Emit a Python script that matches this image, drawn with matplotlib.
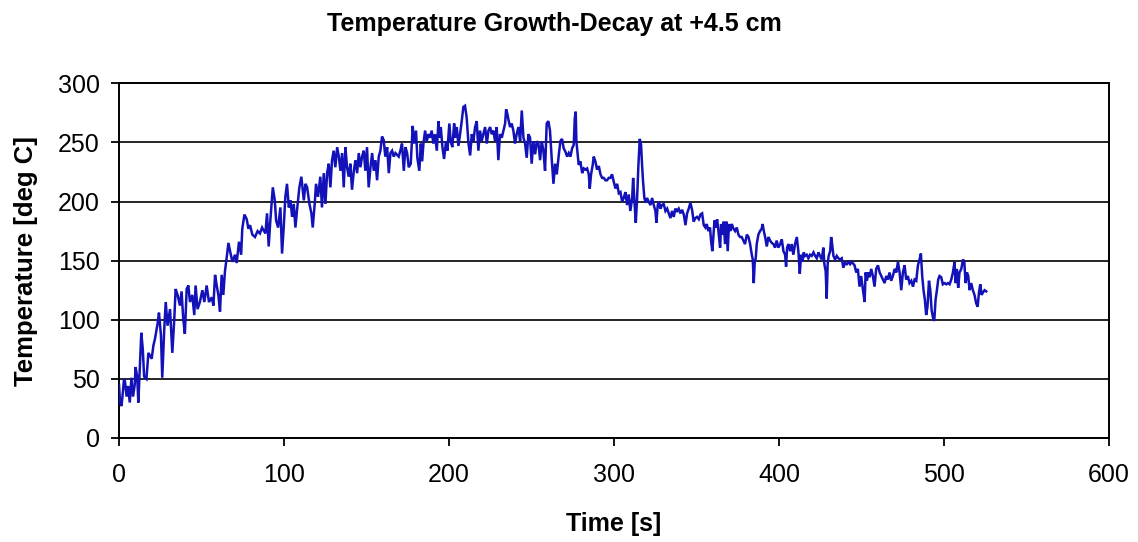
import numpy as np
import matplotlib
matplotlib.use("Agg")
import matplotlib.pyplot as plt

plt.rcParams['font.family'] = ['Liberation Sans', 'DejaVu Sans']

# Thermocouple record at +4.5 cm: time [s] and temperature [deg C]
time_rise = [0, 0.6, 1.5, 2.4, 3.0, 3.6, 4.6, 5.5, 6.5, 7.5, 8.5, 9.5, 10.0, 11.0, 11.7,
             12.7, 13.5, 14.4, 15.2, 16.6, 17.8, 19.8, 20.8, 21.8, 23.4, 24.2, 25.4, 26.2,
             27.4, 28.3, 29.4, 30.9, 32.3, 33.5, 34.3, 35.5, 36.9, 37.9, 38.9, 39.9, 41.0,
             42.0, 43.0, 44.4, 45.6, 46.4, 47.6, 49.0, 50.5, 51.7, 53.1, 54.5, 56.2, 57.2,
             58.2, 59.2, 60.2, 61.2, 62.2, 63.2, 64.2, 65.2, 66.3, 67.3, 68.7, 70.3, 71.3,
             72.7, 74.0, 74.7, 76.0, 77.4, 78.4, 79.4, 80.8, 82.4, 84.0, 85.4]
temp_rise = [45, 30, 27, 40, 50, 48, 35, 44, 30, 51, 35, 45, 60, 52, 30,
             62, 89, 75, 52, 50, 72, 67, 78, 84, 97, 106, 87, 51,
             92, 115, 95, 109, 72, 101, 126, 121, 112, 124, 101, 88, 126,
             129, 115, 121, 104, 129, 109, 115, 125, 115, 129, 115, 119, 112,
             138, 129, 121, 107, 138, 121, 141, 152, 165, 158, 149, 155, 148,
             166, 155, 177, 189, 185, 177, 180, 172, 170, 175, 173]

time_climb = [86.7, 88.7, 89.7, 90.7, 91.7, 93.2, 94.4, 95.2, 96.4, 97.8, 98.8, 99.8, 100.8,
              101.8, 102.9, 103.9, 104.9, 105.9, 106.9, 107.9, 109.3, 110.5, 112.0, 113.0,
              114.0, 115.4, 116.6, 117.4, 118.6, 119.4, 120.6, 122.0, 123.0, 124.1, 125.1,
              126.1, 127.1, 128.1, 129.1, 130.1, 131.1, 132.2, 133.2, 134.2, 135.2, 136.2,
              137.2, 138.2, 139.2, 140.2, 141.2, 142.3, 143.3, 144.3, 145.3, 146.3, 147.3,
              148.3, 149.3, 150.3, 151.3, 152.4, 153.4, 154.4, 155.4, 156.4, 157.4, 158.4,
              159.4, 160.4, 161.4, 162.5, 163.5, 164.5, 165.5, 166.5, 167.5, 169.5, 170.5,
              171.5, 172.6, 173.6, 174.6, 175.6]
temp_climb = [178, 173, 190, 162, 184, 212, 201, 184, 178, 195, 156, 178, 204,
              215, 195, 201, 187, 198, 178, 193, 212, 221, 201, 215,
              212, 198, 190, 178, 198, 215, 204, 221, 195, 224, 198,
              224, 232, 212, 235, 243, 229, 246, 238, 226, 241, 212,
              246, 229, 221, 232, 210, 226, 235, 224, 241, 229, 238,
              243, 226, 246, 212, 229, 241, 226, 235, 218, 238, 243,
              255, 252, 238, 246, 224, 241, 243, 238, 241, 238, 243,
              249, 226, 246, 241, 229]

time_peak = [176.8, 178.0, 178.8, 180.0, 180.8, 182.0, 182.9, 183.7, 184.5, 185.5, 186.5,
             187.5, 188.5, 189.5, 190.5, 191.5, 192.6, 193.6, 194.2, 195.0, 196.0, 197.0,
             198.2, 199.0, 200.2, 201.0, 202.0, 203.1, 203.9, 204.7, 205.7, 206.7, 207.7,
             208.7, 209.7, 210.7, 211.8, 212.8, 213.8, 214.8, 215.8, 216.8, 217.8, 218.8,
             219.8, 220.8, 221.9, 222.9, 223.9, 224.9, 225.9, 226.9, 227.9, 228.9, 229.9,
             230.9, 232.0, 233.0, 234.0, 234.6, 235.4, 236.2, 237.0, 238.0, 239.0, 240.0,
             241.0, 242.1, 243.1, 244.1, 245.1, 246.1, 247.1, 248.1, 249.1, 250.1, 251.1,
             252.2, 253.2, 254.2, 255.2, 256.2, 257.2, 258.2, 259.2, 260.2, 261.2, 262.3,
             263.3, 264.3, 265.3]
temp_peak = [232, 264, 249, 260, 237, 226, 249, 234, 249, 260, 251,
             257, 254, 260, 249, 257, 243, 268, 254, 263, 246, 236,
             251, 243, 266, 251, 246, 266, 254, 263, 247, 257, 268,
             280, 281, 271, 249, 239, 257, 251, 263, 268, 243, 260,
             251, 257, 263, 249, 260, 263, 257, 260, 251, 263, 235,
             257, 254, 260, 266, 278, 274, 268, 263, 266, 260, 249,
             257, 263, 251, 277, 254, 249, 237, 257, 254, 232, 251,
             240, 251, 249, 235, 251, 243, 226, 266, 268, 260, 235,
             215, 232, 223]

time_fall = [266.5, 267.5, 268.5, 269.5, 270.6, 271.6, 272.6, 273.6, 274.6, 275.6, 276.2,
             276.8, 277.2, 278.0, 278.6, 279.6, 280.7, 281.7, 282.7, 283.7, 284.7, 285.3,
             286.1, 287.1, 287.7, 288.7, 289.7, 290.8, 291.8, 292.8, 293.8, 294.8, 295.8,
             296.8, 297.8, 298.8, 299.8, 300.9, 301.9, 302.9, 303.9, 304.9, 305.9, 306.9,
             307.9, 308.9, 309.9, 311.0, 311.6, 312.4, 313.2, 314.0, 314.8, 315.6, 316.4,
             317.0, 317.6, 318.4, 319.2, 320.0, 321.0, 322.1, 323.1, 324.1, 325.1, 325.7,
             326.5, 327.3, 328.1, 329.1, 330.1, 331.2, 332.2, 333.2, 334.2, 335.2, 336.2,
             337.2, 338.2, 339.2, 340.2, 341.3, 342.3, 343.3, 344.3, 345.3, 346.3, 347.3,
             348.3, 349.3, 350.3, 351.4, 352.4, 353.4, 354.4, 355.4]
temp_fall = [239, 251, 253, 245, 242, 238, 241, 238, 245, 248, 270,
             276, 251, 239, 231, 234, 224, 228, 227, 228, 223, 211,
             223, 231, 238, 234, 227, 230, 223, 220, 220, 218, 218,
             220, 220, 223, 217, 211, 215, 207, 208, 200, 203, 208,
             197, 206, 192, 203, 220, 200, 182, 203, 231, 253, 248,
             231, 217, 203, 199, 203, 200, 197, 203, 197, 192, 182,
             197, 200, 194, 197, 198, 192, 194, 190, 186, 192, 187,
             194, 192, 194, 190, 193, 189, 180, 190, 194, 199, 193,
             183, 186, 187, 185, 189, 190, 180, 178]

time_decay = [356.2, 357.2, 358.2, 358.8, 359.6, 360.3, 360.9, 361.7, 362.5, 363.3, 364.3,
              364.9, 365.7, 366.5, 367.3, 368.1, 368.9, 369.7, 370.6, 371.4, 372.4, 373.4,
              374.4, 375.4, 376.4, 377.4, 378.4, 379.4, 380.5, 381.5, 382.5, 383.5, 384.1,
              384.7, 385.3, 385.9, 386.5, 387.5, 388.5, 389.5, 390.1, 390.8, 391.6, 392.6,
              393.6, 394.6, 395.6, 396.6, 397.6, 398.6, 399.6, 400.7, 401.7, 402.7, 403.7,
              404.3, 404.9, 405.7, 406.7, 407.7, 408.7, 409.7, 410.8, 411.8, 412.6, 413.4,
              414.2, 415.0, 415.8, 416.8, 417.8, 418.8, 419.8, 420.9, 421.9, 422.9, 423.9,
              424.9, 425.9, 426.9, 427.5, 428.3, 428.9, 429.5, 430.1, 431.0, 431.6, 432.2,
              433.0, 434.0, 435.0, 436.0, 437.0, 438.0, 439.0, 440.0, 441.1, 442.1, 443.1,
              444.1]
temp_decay = [181, 175, 178, 167, 158, 172, 184, 178, 185, 175, 161,
              181, 172, 183, 164, 183, 158, 181, 175, 181, 177, 175,
              178, 172, 170, 170, 167, 164, 172, 170, 164, 155, 151,
              131, 149, 152, 164, 172, 175, 177, 181, 175, 170, 162,
              170, 167, 165, 164, 161, 167, 161, 164, 168, 158, 155,
              145, 161, 164, 158, 164, 155, 164, 170, 157, 139, 155,
              149, 157, 154, 155, 152, 155, 154, 157, 154, 152, 157,
              154, 151, 161, 147, 141, 118, 147, 154, 158, 170, 164,
              154, 151, 154, 152, 151, 152, 144, 148, 147, 149, 147,
              149]

time_tail = [445.8, 446.8, 447.8, 448.8, 449.8, 450.9, 451.9, 452.5, 453.3, 454.1, 454.9,
             455.9, 456.9, 457.9, 458.9, 460.0, 461.0, 462.0, 463.0, 464.0, 465.0, 466.0,
             467.0, 468.0, 469.0, 470.1, 471.1, 472.1, 473.1, 474.1, 475.1, 476.1, 477.1,
             478.1, 479.1, 480.2, 481.2, 482.2, 483.2, 484.2, 485.2, 486.0, 486.8, 487.6,
             488.4, 489.2, 490.0, 490.9, 491.7, 492.5, 493.3, 494.1, 494.9, 495.7, 496.5,
             497.3, 498.3, 499.3, 500.4, 501.4, 502.4, 503.4, 504.4, 505.4, 506.4, 507.0,
             507.8, 508.6, 509.4, 510.5, 511.5, 512.3, 513.1, 513.9, 514.7, 515.5, 516.5,
             517.5, 518.5, 519.5, 520.4, 521.2, 522.0, 522.8, 523.6, 524.6, 525.6]
temp_tail = [146, 140, 143, 128, 137, 125, 115, 140, 133, 140, 136,
             143, 137, 128, 143, 146, 140, 137, 134, 131, 137, 134,
             140, 133, 137, 143, 140, 149, 140, 125, 140, 146, 134,
             137, 131, 133, 128, 134, 133, 146, 151, 156, 137, 125,
             117, 104, 111, 133, 125, 108, 102, 99, 117, 125, 134,
             137, 136, 130, 131, 130, 131, 130, 134, 140, 149, 131,
             143, 127, 140, 143, 151, 149, 131, 140, 137, 125, 131,
             125, 121, 114, 111, 123, 130, 121, 123, 125, 124]

x_ticks = [0, 100, 200, 300, 400, 500, 600]
y_ticks = [0, 50, 100, 150, 200, 250, 300]

segments = [(time_rise, temp_rise), (time_climb, temp_climb), (time_peak, temp_peak),
            (time_fall, temp_fall), (time_decay, temp_decay), (time_tail, temp_tail)]
for ts, vs in segments:
    assert len(ts) == len(vs), (len(ts), len(vs))
time_s = np.concatenate([np.asarray(ts, float) for ts, _ in segments])
temp_c = np.concatenate([np.asarray(vs, float) for _, vs in segments])

fig = plt.figure(figsize=(11.38, 5.42), dpi=100)
ax = fig.add_axes([0.1046, 0.1919, 0.8699, 0.6544])

ax.plot(time_s, temp_c, color='#1212B8', linewidth=1.8, solid_joinstyle='miter',
        zorder=3)

ax.set_xlim(x_ticks[0], x_ticks[-1])
ax.set_ylim(y_ticks[0], y_ticks[-1])
ax.set_xticks(x_ticks)
ax.set_yticks(y_ticks)
ax.yaxis.grid(True, color='black', linewidth=1.2)
ax.set_axisbelow(True)
for side in ax.spines.values():
    side.set_color('black')
    side.set_linewidth(1.4)

ax.tick_params(axis='both', direction='out', length=6, width=1.3, colors='black',
               labelsize=18)
ax.tick_params(axis='x', pad=12)
ax.tick_params(axis='y', pad=8)

ax.set_xlabel('Time [s]', fontsize=18, fontweight='bold', labelpad=18)
ax.set_ylabel('Temperature [deg C]', fontsize=18.5, fontweight='bold', labelpad=14)
fig.text(0.487, 0.955, 'Temperature Growth-Decay at +4.5 cm', ha='center', va='center',
         fontsize=18, fontweight='bold')

fig.savefig('out.png', dpi=100, facecolor='white')
